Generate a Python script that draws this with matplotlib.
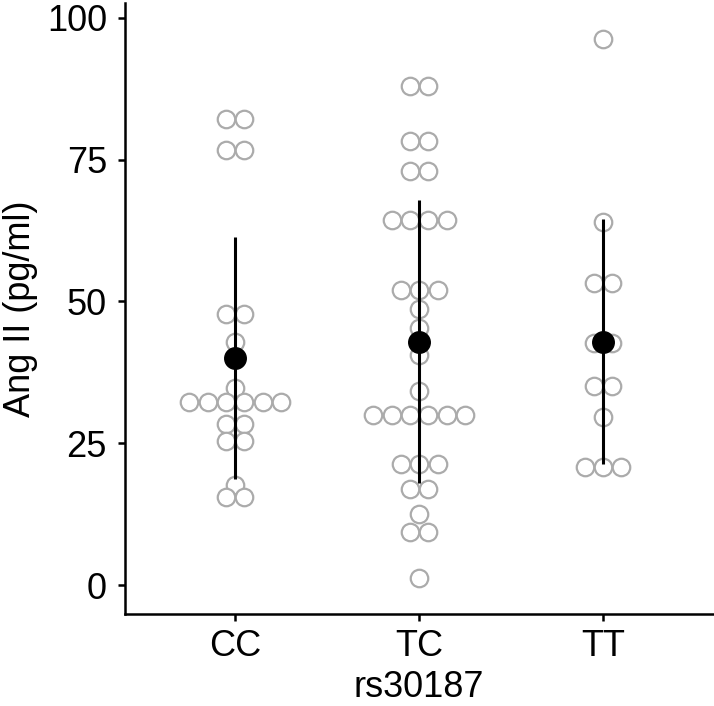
import numpy as np
import matplotlib
matplotlib.use("Agg")
import matplotlib.pyplot as plt

plt.rcParams['font.family'] = ['Liberation Sans', 'DejaVu Sans']

groups = ["CC", "TC", "TT"]

# stacked dot levels (bin centres) and number of dots in each stack
cc_levels = [82.1, 76.7, 47.8, 42.9, 34.7, 32.2, 28.4, 25.5, 17.6, 15.6]
cc_counts = [2, 2, 2, 1, 1, 6, 2, 2, 1, 2]
tc_levels = [88.0, 78.3, 72.9, 64.4, 52.1, 48.6, 45.4, 40.6, 34.2, 30.0, 21.3, 17.0, 12.5, 9.4, 1.2]
tc_counts = [2, 2, 2, 4, 3, 1, 1, 1, 1, 6, 3, 2, 1, 2, 1]
tt_levels = [96.2, 64.0, 53.2, 42.6, 35.1, 29.7, 20.8]
tt_counts = [1, 1, 2, 2, 2, 1, 3]

# mean and SD
means = [40.0, 42.9, 42.9]
sds = [21.3, 24.9, 21.6]

levels = [cc_levels, tc_levels, tt_levels]
counts = [cc_counts, tc_counts, tt_counts]

fig = plt.figure(figsize=(7.14, 7.06), dpi=100)
ax = fig.add_axes([0.175, 0.13, 0.824, 0.866])

step = 0.1  # horizontal distance between stacked dots
for i in range(3):
    xs = []
    ys = []
    for lv, n in zip(levels[i], counts[i]):
        for k in range(n):
            xs.append(i + 1 + (k - (n - 1) / 2) * step)
            ys.append(lv)
    ax.plot(xs, ys, 'o', ms=12.6, mfc='white', mec='#ABABAB', mew=1.6,
            ls='none', zorder=2)

x = np.arange(1, 4)
ax.vlines(x, np.array(means) - np.array(sds), np.array(means) + np.array(sds),
          color='black', lw=2.2, zorder=3)
ax.plot(x, means, 'o', ms=15.5, color='black', ls='none', zorder=4)

ax.set_xlim(0.4, 3.6)
ax.set_ylim(-5.1, 102.6)
ax.set_xticks(x)
ax.set_xticklabels(groups)
ax.set_yticks([0, 25, 50, 75, 100])
ax.set_xlabel("rs30187", fontsize=26, labelpad=4)
ax.set_ylabel("Ang II (pg/ml)", fontsize=26, labelpad=6)
ax.tick_params(labelsize=26, width=1.8, length=5, colors='black')
ax.tick_params(axis='y', pad=8)
ax.tick_params(axis='x', pad=6)
for s in ['top', 'right']:
    ax.spines[s].set_visible(False)
for s in ['left', 'bottom']:
    ax.spines[s].set_linewidth(1.8)

plt.savefig("out.png", dpi=100)
